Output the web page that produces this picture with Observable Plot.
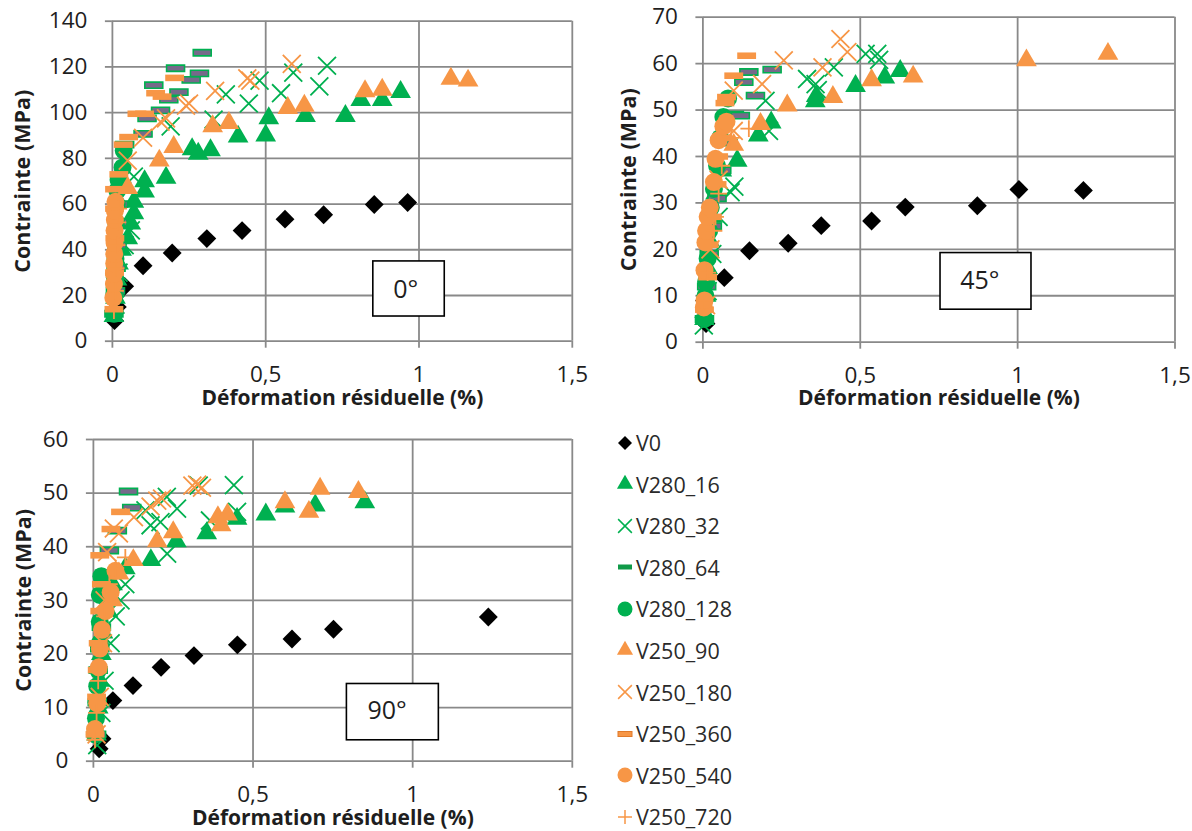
<!DOCTYPE html>
<html><head><meta charset="utf-8">
<script src="https://cdn.jsdelivr.net/npm/d3@7"></script>
<script src="https://cdn.jsdelivr.net/npm/@observablehq/plot@0.6"></script>
<style>
body{margin:0;background:#fff;}
#root{position:relative;width:1192px;height:831px;overflow:hidden;font-family:"Open Sans",sans-serif;background:#fff;}
.panel{position:absolute;}
.panel svg{overflow:visible;}
.leg{position:absolute;display:flex;align-items:center;height:30px;font-size:21.5px;color:#2a2a2a;}
</style></head><body><div id="root"></div>
<script>
// ---------- data ----------
const seriesNames = ["V0","V280_16","V280_32","V280_64","V280_128","V250_90","V250_180","V250_360","V250_540","V250_720"];
const xTickValues = [0, 0.5, 1, 1.5];
const panelLabels = ["0°", "45°", "90°"];
const xTitle = "Déformation résiduelle (%)";
const yTitle = "Contrainte (MPa)";

// 0°
const deg0_V0 = [[0.007,9],[0.016,15],[0.04,24],[0.10,33],[0.195,38.6],[0.308,44.9],[0.423,48.4],[0.563,53.4],[0.689,55.3],[0.854,59.8],[0.963,60.7]];
const deg0_V280_16 = [[0.005,11],[0.01,19],[0.015,27],[0.02,34],[0.03,40],[0.05,45],[0.06,51.5],[0.07,56],[0.07,61],[0.105,65.5],[0.105,70],[0.175,71.5],[0.26,84],[0.28,82],[0.32,83.5],[0.41,89.5],[0.5,90],[0.51,97.5],[0.63,98.5],[0.76,98.5],[0.81,105.5],[0.88,105.5],[0.94,109]];
const deg0_V280_32 = [[0.01,16],[0.02,30],[0.04,42],[0.06,48.5],[0.07,72],[0.19,94],[0.33,97],[0.37,108],[0.445,104],[0.48,114],[0.55,108.5],[0.59,117.5],[0.675,111.5],[0.70,120.5]];
const deg0_V280_64 = [[0.005,12],[0.01,22],[0.012,32],[0.015,42],[0.018,52],[0.02,60],[0.03,68],[0.04,86],[0.1,90.7],[0.113,97.5],[0.157,101],[0.184,105.7],[0.217,109],[0.135,112],[0.257,114.3],[0.284,117.2],[0.206,119.4],[0.293,126.2]];
const deg0_V280_128 = [[0.005,12],[0.006,20],[0.008,28],[0.01,36],[0.01,44],[0.012,52],[0.014,60],[0.016,66],[0.02,70.5],[0.033,76],[0.037,83.4]];
const deg0_V250_90 = [[0.05,67],[0.153,79],[0.2,85],[0.327,94],[0.38,95.5],[0.572,102],[0.626,103],[0.824,109.4],[0.88,110],[1.104,114.8],[1.16,114]];
const deg0_V250_180 = [[0.05,79],[0.1,89],[0.157,96],[0.175,97.5],[0.24,103],[0.25,104],[0.335,109.5],[0.44,115],[0.45,114],[0.585,121.3]];
const deg0_V250_360 = [[0.005,14],[0.007,30],[0.008,45],[0.007,58],[0.007,66.5],[0.021,73],[0.035,86],[0.053,89.3],[0.08,99.5],[0.105,99.5],[0.141,108.5],[0.162,107],[0.203,115.2]];
const deg0_V250_540 = [[0.003,19],[0.005,25],[0.005,29.5],[0.006,34],[0.006,38.2],[0.007,43],[0.007,48.4],[0.008,53],[0.008,57],[0.01,61]];
const deg0_V250_720 = [[0.005,13.4],[0.01,22],[0.012,32],[0.015,42],[0.018,52],[0.02,58]];

// 45°
const deg45_V0 = [[0.01,4],[0.005,9],[0.068,13.9],[0.148,19.7],[0.271,21.3],[0.376,25.1],[0.536,26.1],[0.643,29.1],[0.872,29.4],[1.004,32.9],[1.209,32.7]];
const deg45_V280_16 = [[0.005,5],[0.01,10],[0.015,16],[0.02,22],[0.03,27],[0.04,32],[0.06,37],[0.109,39.1],[0.176,44.5],[0.217,47.3],[0.357,51.9],[0.36,53],[0.485,55.2],[0.578,57],[0.627,58.4]];
const deg45_V280_32 = [[0.003,3.6],[0.015,11],[0.03,19],[0.05,27],[0.088,32.3],[0.1,33.5],[0.21,45.5],[0.199,52],[0.331,56.7],[0.358,55.6],[0.365,54.3],[0.416,59.2],[0.517,62.1],[0.554,62.1],[0.56,60.8]];
const deg45_V280_64 = [[0.005,5],[0.012,12],[0.02,19],[0.03,25],[0.045,31],[0.06,37],[0.08,43],[0.1,49],[0.119,48.8],[0.167,53.1],[0.13,56],[0.146,58.2],[0.22,58.7]];
const deg45_V280_128 = [[0.005,5],[0.008,10],[0.01,13],[0.015,18],[0.02,24],[0.025,29],[0.035,33],[0.045,38],[0.055,44],[0.065,48.5],[0.08,52.5]];
const deg45_V250_90 = [[0.098,42.5],[0.183,47],[0.268,51],[0.413,52.8],[0.536,56.4],[0.668,57.2],[1.028,60.7],[1.287,62.1]];
const deg45_V250_180 = [[0.01,8],[0.024,20],[0.05,35],[0.098,45.5],[0.098,54.2],[0.188,55.6],[0.257,60.7],[0.38,59.2],[0.437,65.3],[0.459,62.5]];
const deg45_V250_360 = [[0.005,7],[0.015,14],[0.02,21],[0.03,27],[0.045,34],[0.05,40],[0.06,44],[0.07,51.5],[0.075,52.8],[0.098,57.4],[0.139,61.7]];
const deg45_V250_540 = [[0.003,7.5],[0.005,9],[0.005,15.5],[0.008,21.5],[0.01,24],[0.015,27],[0.022,29],[0.035,34.5],[0.04,39.5],[0.05,43.5],[0.065,46.5],[0.075,47.5]];
const deg45_V250_720 = [[0.005,9],[0.015,15],[0.035,24],[0.04,27],[0.05,32],[0.06,38],[0.09,44],[0.146,46]];

// 90°
const deg90_V0 = [[0.018,2.3],[0.027,4.2],[0.061,11.3],[0.124,14.1],[0.212,17.5],[0.315,19.7],[0.451,21.7],[0.622,22.8],[0.752,24.6],[1.237,26.9]];
const deg90_V280_16 = [[0.01,5],[0.015,10],[0.02,15],[0.025,20],[0.03,24],[0.045,28],[0.06,33],[0.1,36],[0.18,37.5],[0.26,41],[0.355,42.5],[0.45,45.2],[0.54,46],[0.6,47.5],[0.695,47.7],[0.85,48.3]];
const deg90_V280_32 = [[0.012,3],[0.025,9],[0.035,15],[0.054,22],[0.07,27],[0.085,30],[0.1,33],[0.163,46.8],[0.179,44],[0.21,44.6],[0.231,38.7],[0.262,47.1],[0.23,49.3],[0.33,51.4],[0.365,44.9],[0.44,51.5],[0.45,46.5]];
const deg90_V280_64 = [[0.01,5],[0.012,11],[0.015,17],[0.02,21],[0.025,25],[0.03,31],[0.035,35],[0.05,39.3],[0.075,43],[0.12,47.3],[0.11,50.3]];
const deg90_V280_128 = [[0.005,5],[0.008,8],[0.01,11],[0.012,14],[0.015,17],[0.02,22],[0.02,26],[0.02,31],[0.025,34.5]];
const deg90_V250_90 = [[0.06,30],[0.08,35],[0.125,37.5],[0.2,41],[0.25,42.7],[0.39,45.5],[0.4,44],[0.42,46],[0.6,48.3],[0.675,46.5],[0.71,50.8],[0.83,50.2]];
const deg90_V250_180 = [[0.01,5],[0.02,12],[0.03,22],[0.035,30],[0.043,39],[0.064,43.4],[0.08,42.5],[0.127,45.5],[0.179,47.5],[0.2,48.6],[0.215,49],[0.31,51.4],[0.325,51.6],[0.34,51]];
const deg90_V250_360 = [[0.005,5],[0.01,12],[0.012,17],[0.015,22],[0.02,28],[0.025,33],[0.02,38.4],[0.055,43.3],[0.085,46.5]];
const deg90_V250_540 = [[0.005,6],[0.012,10.8],[0.017,17.5],[0.02,21],[0.027,24.5],[0.038,28],[0.054,31.5],[0.069,35.5]];
const deg90_V250_720 = [[0.005,4],[0.01,9],[0.015,15],[0.025,21],[0.035,27],[0.05,33],[0.07,36],[0.1,38]];

// ---------- styles ----------
const GREEN = "#00b050", ORANGE = "#f79646", GRID = "#898989", INK = "#1e1e1e";
const dashSymbol = {draw(ctx, size){ const r = Math.sqrt(size/Math.PI); const w = r*2.3, h = r*0.8; ctx.rect(-w/2,-h/2,w,h); }};
const styles = {
  V0:       {symbol:"diamond2", fill:"#000", r:8.5},
  V280_16:  {symbol:"triangle", fill:GREEN, r:7.7},
  V280_32:  {symbol:"times", fill:"none", stroke:GREEN, strokeWidth:1.8, r:8.2},
  V280_64:  {symbol:dashSymbol, fill:"#766a8a", stroke:GREEN, strokeWidth:1.6, r:7.8},
  V280_128: {symbol:"circle", fill:GREEN, r:9},
  V250_90:  {symbol:"triangle", fill:ORANGE, r:7.7},
  V250_180: {symbol:"times", fill:"none", stroke:ORANGE, strokeWidth:1.8, r:8.2},
  V250_360: {symbol:dashSymbol, fill:ORANGE, r:8.2},
  V250_540: {symbol:"circle", fill:ORANGE, r:9},
  V250_720: {symbol:"plus", fill:"none", stroke:ORANGE, strokeWidth:1.8, r:5.5}
};
const legendStyles = {
  V0:       {type:d3.symbolDiamond2, size:125, fill:"#000"},
  V280_16:  {type:d3.symbolTriangle, size:113, fill:GREEN},
  V280_32:  {type:d3.symbolTimes, size:125, stroke:GREEN},
  V280_64:  {dash:true, fill:"#109a48"},
  V280_128: {type:d3.symbolCircle, size:177, fill:GREEN},
  V250_90:  {type:d3.symbolTriangle, size:113, fill:ORANGE},
  V250_180: {type:d3.symbolTimes, size:125, stroke:ORANGE},
  V250_360: {dash:true, fill:ORANGE, stroke:"#e07a2a"},
  V250_540: {type:d3.symbolCircle, size:177, fill:ORANGE},
  V250_720: {type:d3.symbolPlus, size:66, stroke:ORANGE}
};

const panels = [
  {series:[deg0_V0,deg0_V280_16,deg0_V280_32,deg0_V280_64,deg0_V280_128,deg0_V250_90,deg0_V250_180,deg0_V250_360,deg0_V250_540,deg0_V250_720],
   yMax:140, yStep:20, label:panelLabels[0],
   box:{x1:0.851,x2:1.084,y1:10.8,y2:34.9,tx:0.957,ty:22.5},
   pos:{left:0,top:0,width:590,height:415,ml:111.9,mr:18.2,mt:20.7,mb:74.3,xdy:57.5,ydx:-89}},
  {series:[deg45_V0,deg45_V280_16,deg45_V280_32,deg45_V280_64,deg45_V280_128,deg45_V250_90,deg45_V250_180,deg45_V250_360,deg45_V250_540,deg45_V250_720],
   yMax:70, yStep:10, label:panelLabels[1],
   box:{x1:0.755,x2:1.044,y1:7.0,y2:19.2,tx:0.88,ty:13.1},
   pos:{left:590,top:0,width:602,height:415,ml:112.4,mr:17.5,mt:16.7,mb:73.3,xdy:56.5,ydx:-73.6}},
  {series:[deg90_V0,deg90_V280_16,deg90_V280_32,deg90_V280_64,deg90_V280_128,deg90_V250_90,deg90_V250_180,deg90_V250_360,deg90_V250_540,deg90_V250_720],
   yMax:60, yStep:10, label:panelLabels[2],
   box:{x1:0.794,x2:1.082,y1:3.9,y2:14.4,tx:0.92,ty:9.3},
   pos:{left:0,top:420,width:600,height:411,ml:92.9,mr:28.2,mt:19,mb:70.3,xdy:57,ydx:-69.6}}
];

const root = document.getElementById("root");
const fmt = d => String(d).replace(".", ",");

for (const p of panels) {
  const yTicks = d3.range(0, p.yMax + 0.001, p.yStep);
  const P = p.pos;
  const marks = [
    Plot.gridX({ticks: xTickValues, stroke: GRID, strokeOpacity: 1, strokeWidth: 1.8}),
    Plot.gridY({ticks: yTicks, stroke: GRID, strokeOpacity: 1, strokeWidth: 1.8}),
    Plot.axisX({ticks: xTickValues, tickSize: 7, tickPadding: 17.5, stroke: GRID, strokeWidth: 1.8, fill: INK, fontSize: 22.5, tickFormat: fmt, label: null}),
    Plot.axisY({ticks: yTicks, tickSize: 7, tickPadding: 18, stroke: GRID, strokeWidth: 1.8, fill: INK, fontSize: 22.5, label: null}),
  ];
  p.series.forEach((data, i) => {
    const s = styles[seriesNames[i]];
    marks.push(Plot.dot(data, {x: d => d[0], y: d => d[1], ...s}));
  });
  marks.push(
    Plot.rect([p.box], {x1:"x1", x2:"x2", y1:"y1", y2:"y2", fill:"#fff", stroke:"#000", strokeWidth:1.6}),
    Plot.text([p.box], {x:"tx", y:"ty", text: () => p.label, fontSize: 25, fill: INK}),
    Plot.text([xTitle], {frameAnchor:"bottom", textAnchor:"middle", text: d => d, dy: P.xdy, lineAnchor:"middle", fontWeight:"bold", fontSize:21, fill: INK}),
    Plot.text([yTitle], {frameAnchor:"left", textAnchor:"middle", text: d => d, dx: P.ydx, rotate: -90, lineAnchor:"middle", fontWeight:"bold", fontSize:21.5, fill: INK})
  );
  const chart = Plot.plot({
    width: P.width, height: P.height,
    marginLeft: P.ml, marginRight: P.mr, marginTop: P.mt, marginBottom: P.mb,
    style: {fontFamily: '"Open Sans", sans-serif', background: "transparent", overflow: "visible"},
    x: {domain: [0, 1.5]},
    y: {domain: [0, p.yMax]},
    marks
  });
  const div = document.createElement("div");
  div.className = "panel";
  div.style.left = P.left + "px"; div.style.top = P.top + "px";
  div.appendChild(chart);
  root.appendChild(div);
}

// legend
seriesNames.forEach((name, i) => {
  const st = legendStyles[name];
  const item = document.createElement("div");
  item.className = "leg";
  item.style.left = "612px";
  item.style.top = (442.7 + i * 41.55 - 15) + "px";
  const svg = d3.create("svg").attr("width", 26).attr("height", 30).style("overflow", "visible");
  const g = svg.append("g").attr("transform", "translate(13,15)");
  if (st.dash) {
    g.append("rect").attr("x", -7).attr("y", -2.5).attr("width", 14).attr("height", 5)
      .attr("fill", st.fill).attr("stroke", st.stroke || "none").attr("stroke-width", 1);
  } else {
    g.append("path").attr("d", d3.symbol(st.type, st.size)())
      .attr("fill", st.fill || "none").attr("stroke", st.stroke || "none").attr("stroke-width", 1.5);
  }
  item.appendChild(svg.node());
  const t = document.createElement("span");
  t.textContent = name;
  t.style.marginLeft = "-2px";
  item.appendChild(t);
  root.appendChild(item);
});
</script>
</body></html>
